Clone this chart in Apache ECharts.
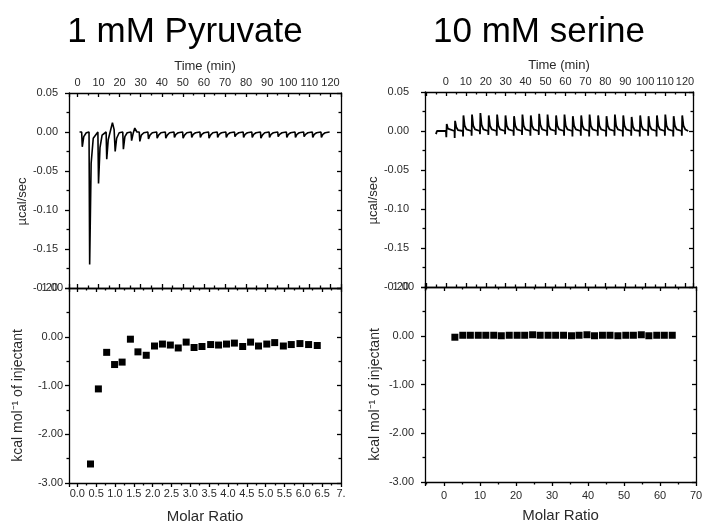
<!DOCTYPE html>
<html><head><meta charset="utf-8">
<script src="https://cdn.jsdelivr.net/npm/echarts@6/dist/echarts.min.js"></script>
<style>html,body{margin:0;padding:0;background:#fff}#c{width:703px;height:523px}</style>
</head><body><div id="c"></div>
<script>
// ---------------- data ----------------
const panelTitles = ['1 mM Pyruvate', '10 mM serine'];

// raw thermogram, 1 mM pyruvate: [time (min), µcal/sec]
const pyruvateRawTrace = [
[1.0,0.000],[2.0,0.000],[2.3,-0.019],[3.0,-0.006],[4.2,-0.001],[5.5,0.000],
[5.8,-0.170],[6.5,-0.040],[7.5,-0.008],[9.7,0.000],
[10.0,-0.066],[10.7,-0.020],[11.7,-0.004],[13.6,0.000],
[13.9,-0.035],[14.6,-0.010],[15.6,0.001],[16.6,0.012],[17.4,0.003],
[17.9,-0.025],[18.6,-0.008],[19.8,-0.001],[21.5,0.000],
[21.8,-0.022],[22.5,-0.006],[23.6,-0.001],[25.4,0.000],
[25.7,-0.011],[26.4,-0.002],[27.2,0.005],[28.2,0.000],[29.3,0.000],
[29.6,-0.012],[30.3,-0.004],[31.5,-0.001],[33.4,0.000],
[33.7,-0.009],[34.4,-0.004],[35.5,-0.001],[37.6,0.000],
[37.8,-0.008],[38.5,-0.004],[39.6,-0.001],[41.7,0.000],
[41.9,-0.008],[42.6,-0.004],[43.7,-0.001],[45.8,0.000],
[46.0,-0.007],[46.7,-0.003],[47.8,-0.001],[49.9,0.000],
[50.1,-0.008],[50.8,-0.004],[51.9,-0.001],[54.0,0.000],
[54.2,-0.007],[54.9,-0.003],[56.0,-0.001],[58.1,0.000],
[58.3,-0.007],[59.0,-0.003],[60.1,-0.001],[62.2,0.000],
[62.4,-0.008],[63.1,-0.004],[64.2,-0.001],[66.3,0.000],
[66.5,-0.007],[67.2,-0.003],[68.3,-0.001],[70.4,0.000],
[70.6,-0.007],[71.3,-0.003],[72.4,-0.001],[74.5,0.000],
[74.7,-0.006],[75.4,-0.003],[76.5,-0.001],[78.6,0.000],
[78.8,-0.007],[79.5,-0.003],[80.6,-0.001],[82.7,0.000],
[82.9,-0.007],[83.6,-0.003],[84.7,-0.001],[86.8,0.000],
[87.0,-0.008],[87.7,-0.004],[88.8,-0.001],[90.9,0.000],
[91.1,-0.007],[91.8,-0.003],[92.9,-0.001],[95.0,0.000],
[95.2,-0.006],[95.9,-0.003],[97.0,-0.001],[99.1,0.000],
[99.3,-0.007],[100.0,-0.003],[101.1,-0.001],[103.2,0.000],
[103.4,-0.007],[104.1,-0.003],[105.2,-0.001],[107.3,0.000],
[107.5,-0.006],[108.2,-0.003],[109.3,-0.001],[111.4,0.000],
[111.6,-0.007],[112.3,-0.003],[113.4,-0.001],[115.5,0.000],
[115.7,-0.007],[116.4,-0.003],[117.5,-0.001],[119.6,0.000]
];

// raw thermogram, 10 mM serine: [time (min), µcal/sec]
const serineRawTrace = [
[-5.0,-0.004],[-4.5,0.000],[0.0,0.000],
[0.2,-0.008],[0.4,0.009],[1.0,0.003],[1.9,0.001],[4.3,0.000],
[4.4,-0.009],[4.6,0.013],[5.2,0.005],[6.1,0.001],[8.5,0.000],
[8.6,-0.007],[8.8,0.020],[9.4,0.007],[10.3,0.002],[12.8,0.000],
[12.9,-0.006],[13.1,0.021],[13.7,0.007],[14.6,0.002],[17.0,0.000],
[17.1,-0.004],[17.3,0.023],[17.9,0.008],[18.8,0.002],[21.2,0.000],
[21.3,-0.005],[21.5,0.020],[22.1,0.007],[23.0,0.002],[25.4,0.000],
[25.5,-0.006],[25.7,0.021],[26.3,0.007],[27.2,0.002],[29.6,0.000],
[29.7,-0.004],[29.9,0.020],[30.5,0.007],[31.4,0.002],[33.9,0.000],
[34.0,-0.006],[34.2,0.019],[34.8,0.007],[35.7,0.002],[38.1,0.000],
[38.2,-0.005],[38.4,0.021],[39.0,0.007],[39.9,0.002],[42.3,0.000],
[42.4,-0.006],[42.6,0.020],[43.2,0.007],[44.1,0.002],[46.5,0.000],
[46.6,-0.005],[46.8,0.022],[47.4,0.008],[48.3,0.002],[50.7,0.000],
[50.8,-0.006],[51.0,0.021],[51.6,0.007],[52.5,0.002],[55.0,0.000],
[55.1,-0.005],[55.3,0.020],[55.9,0.007],[56.8,0.002],[59.2,0.000],
[59.3,-0.006],[59.5,0.021],[60.1,0.007],[61.0,0.002],[63.4,0.000],
[63.5,-0.007],[63.7,0.019],[64.3,0.007],[65.2,0.002],[67.6,0.000],
[67.7,-0.006],[67.9,0.020],[68.5,0.007],[69.4,0.002],[71.8,0.000],
[71.9,-0.007],[72.1,0.021],[72.7,0.007],[73.6,0.002],[76.1,0.000],
[76.2,-0.006],[76.4,0.020],[77.0,0.007],[77.9,0.002],[80.3,0.000],
[80.4,-0.007],[80.6,0.019],[81.2,0.007],[82.1,0.002],[84.5,0.000],
[84.6,-0.006],[84.8,0.021],[85.4,0.007],[86.3,0.002],[88.7,0.000],
[88.8,-0.007],[89.0,0.020],[89.6,0.007],[90.5,0.002],[92.9,0.000],
[93.0,-0.006],[93.2,0.018],[93.8,0.006],[94.7,0.001],[97.2,0.000],
[97.3,-0.007],[97.5,0.020],[98.1,0.007],[99.0,0.002],[101.4,0.000],
[101.5,-0.006],[101.7,0.019],[102.3,0.007],[103.2,0.002],[105.6,0.000],
[105.7,-0.007],[105.9,0.020],[106.5,0.007],[107.4,0.002],[109.8,0.000],
[109.9,-0.006],[110.1,0.021],[110.7,0.007],[111.6,0.002],[114.0,0.000],
[114.1,-0.007],[114.3,0.019],[114.9,0.007],[115.8,0.002],[118.3,0.000],
[118.4,-0.006],[118.6,0.020],[119.2,0.007],[120.1,0.002],[121.6,0.000]
];

// integrated heats: molar ratio and kcal/mol of injectant
const pyruvateMolarRatio = [0.35,0.56,0.78,0.99,1.19,1.41,1.61,1.83,2.05,2.26,2.47,2.68,2.89,3.10,3.31,3.54,3.75,3.96,4.17,4.39,4.60,4.81,5.03,5.24,5.47,5.68,5.91,6.14,6.37];
const pyruvateHeat = [-2.61,-1.07,-0.32,-0.57,-0.52,-0.05,-0.31,-0.38,-0.19,-0.15,-0.17,-0.23,-0.11,-0.22,-0.20,-0.16,-0.17,-0.15,-0.13,-0.20,-0.11,-0.19,-0.15,-0.12,-0.19,-0.16,-0.14,-0.16,-0.18];

const serineMolarRatio = [3.0,5.2,7.3,9.5,11.6,13.8,15.9,18.1,20.3,22.4,24.6,26.7,28.9,31.0,33.2,35.4,37.5,39.7,41.8,44.0,46.1,48.3,50.5,52.6,54.8,56.9,59.1,61.2,63.4];
const serineHeat = [-0.03,0.01,0.01,0.01,0.01,0.01,0.00,0.01,0.01,0.01,0.02,0.01,0.01,0.01,0.01,0.00,0.01,0.02,0.00,0.01,0.01,0.00,0.01,0.01,0.02,0.00,0.01,0.01,0.01];

// axis tick labels
const timeTickLabels = [0,10,20,30,40,50,60,70,80,90,100,110,120];
const pyruvateRatioTickLabels = ['0.0','0.5','1.0','1.5','2.0','2.5','3.0','3.5','4.0','4.5','5.0','5.5','6.0','6.5','7.'];
const serineRatioTickLabels = [0,10,20,30,40,50,60,70];

// ---------------- chart ----------------
const FONT = '"Liberation Sans", Arial, sans-serif';
const LBL = '#2a2a2a';
const lineStyle = {color:'#000', width:1.3};

function timeFmt(v){
  const r = Math.round(v);
  return (Math.abs(v-r) < 1e-6 && timeTickLabels.indexOf(r) >= 0) ? String(r) : '';
}
function pyrRatioFmt(v){
  const k = Math.round(v*2);
  if (Math.abs(v*2-k) > 1e-6 || k < 0 || k >= pyruvateRatioTickLabels.length) return '';
  return pyruvateRatioTickLabels[k];
}
function serRatioFmt(v){
  const r = Math.round(v);
  return (Math.abs(v-r) < 1e-6 && serineRatioTickLabels.indexOf(r) >= 0) ? String(r) : '';
}

function xAx(grid, pos, min, max, split, fmt, showLabel, inside, name, nameGap, labelMargin, nameSize){
  return {
    type:'value', gridIndex:grid, position:pos, min:min, max:max, splitNumber:split,
    axisLine:{show:true, onZero:false, lineStyle:lineStyle},
    axisTick:{show:true, inside:inside, length:4, lineStyle:lineStyle},
    minorTick:{show:true, splitNumber:2, length:2.5, lineStyle:lineStyle},
    splitLine:{show:false},
    axisLabel:{show:showLabel, formatter:fmt, fontSize:11, color:LBL, fontFamily:FONT, margin:labelMargin},
    name:name, nameLocation:'middle', nameGap:nameGap,
    nameTextStyle:{fontSize:nameSize, color:LBL, fontFamily:FONT}
  };
}
function yAx(grid, pos, min, max, interval, showLabel, inside, name, nameGap, labelMargin, nameSize, namePad){
  return {
    type:'value', gridIndex:grid, position:pos, min:min, max:max, interval:interval,
    axisLine:{show:true, onZero:false, lineStyle:lineStyle},
    axisTick:{show:true, inside:inside, length:4, lineStyle:lineStyle},
    minorTick:{show:true, splitNumber:2, length:2.5, lineStyle:lineStyle},
    splitLine:{show:false},
    axisLabel:{show:showLabel, formatter:v => v.toFixed(2), fontSize:11, color:LBL, fontFamily:FONT, margin:labelMargin,
      showMinLabel:true, showMaxLabel:true},
    name:name, nameLocation:'middle', nameGap:nameGap,
    nameTextStyle:{fontSize:nameSize, color:LBL, fontFamily:FONT, padding:namePad || 0}
  };
}

const kcalName = 'kcal mol\u207B\u00B9 of injectant';

function gridBox(left, top, width, height){
  return {left:left, top:top, width:width, height:height, containLabel:false, outerBoundsMode:'none'};
}

const option = {
  animation:false,
  backgroundColor:'#fff',
  title:[
    {text:panelTitles[0], left:180, top:10, textAlign:'center', textStyle:{fontSize:35, fontWeight:'normal', color:'#000', fontFamily:FONT}},
    {text:panelTitles[1], left:534, top:10, textAlign:'center', textStyle:{fontSize:35, fontWeight:'normal', color:'#000', fontFamily:FONT}}
  ],
  grid:[
    gridBox(69, 93, 272, 195),
    gridBox(69, 288, 272, 195),
    gridBox(425, 92, 268, 195),
    gridBox(425, 287, 271, 195)
  ],
  xAxis:[
    xAx(0,'top',-4,125,13,timeFmt,true,true,'Time (min)',20,5,13),
    xAx(0,'bottom',-4,125,13,timeFmt,false,true,'',0,5,13),
    xAx(1,'bottom',-0.22,7.0,14,pyrRatioFmt,true,false,'Molar Ratio',26,5,15),
    xAx(1,'top',-0.22,7.0,14,pyrRatioFmt,false,true,'',0,5,15),
    xAx(2,'top',-10.5,124,13,timeFmt,true,true,'Time (min)',20,5,13),
    xAx(2,'bottom',-10.5,124,13,timeFmt,false,true,'',0,5,13),
    xAx(3,'bottom',-5.3,70,7,serRatioFmt,true,false,'Molar Ratio',26,8,15),
    xAx(3,'top',-5.3,70,7,serRatioFmt,false,true,'',0,5,15)
  ],
  yAxis:[
    yAx(0,'left',-0.2,0.05,0.05,true,false,'\u00B5cal/sec',40,11,13,[0,22,0,0]),
    yAx(0,'right',-0.2,0.05,0.05,false,true,'',0,5,13),
    yAx(1,'left',-3,1,1,true,false,kcalName,44,6,14,[0,20,0,0]),
    yAx(1,'right',-3,1,1,false,true,'',0,5,14),
    yAx(2,'left',-0.2,0.05,0.05,true,false,'\u00B5cal/sec',35,16,13,[0,22,0,0]),
    yAx(2,'right',-0.2,0.05,0.05,false,true,'',0,5,13),
    yAx(3,'left',-3,1,1,true,false,kcalName,43,11,14,[0,20,0,0]),
    yAx(3,'right',-3,1,1,false,true,'',0,5,14)
  ],
  series:[
    {type:'line', xAxisIndex:0, yAxisIndex:0, data:pyruvateRawTrace, showSymbol:false, symbol:'none',
      lineStyle:{color:'#000', width:1.6}, silent:true},
    {type:'line', xAxisIndex:4, yAxisIndex:4, data:serineRawTrace, showSymbol:false, symbol:'none',
      lineStyle:{color:'#000', width:1.8}, silent:true},
    {type:'scatter', xAxisIndex:2, yAxisIndex:2, symbol:'rect', symbolSize:7,
      itemStyle:{color:'#000', opacity:1}, data:pyruvateMolarRatio.map((x,i)=>[x, pyruvateHeat[i]]), silent:true},
    {type:'scatter', xAxisIndex:6, yAxisIndex:6, symbol:'rect', symbolSize:7,
      itemStyle:{color:'#000', opacity:1}, data:serineMolarRatio.map((x,i)=>[x, serineHeat[i]]), silent:true}
  ]
};

const chart = echarts.init(document.getElementById('c'), null, {renderer:'canvas'});
chart.setOption(option);
</script>
</body></html>
